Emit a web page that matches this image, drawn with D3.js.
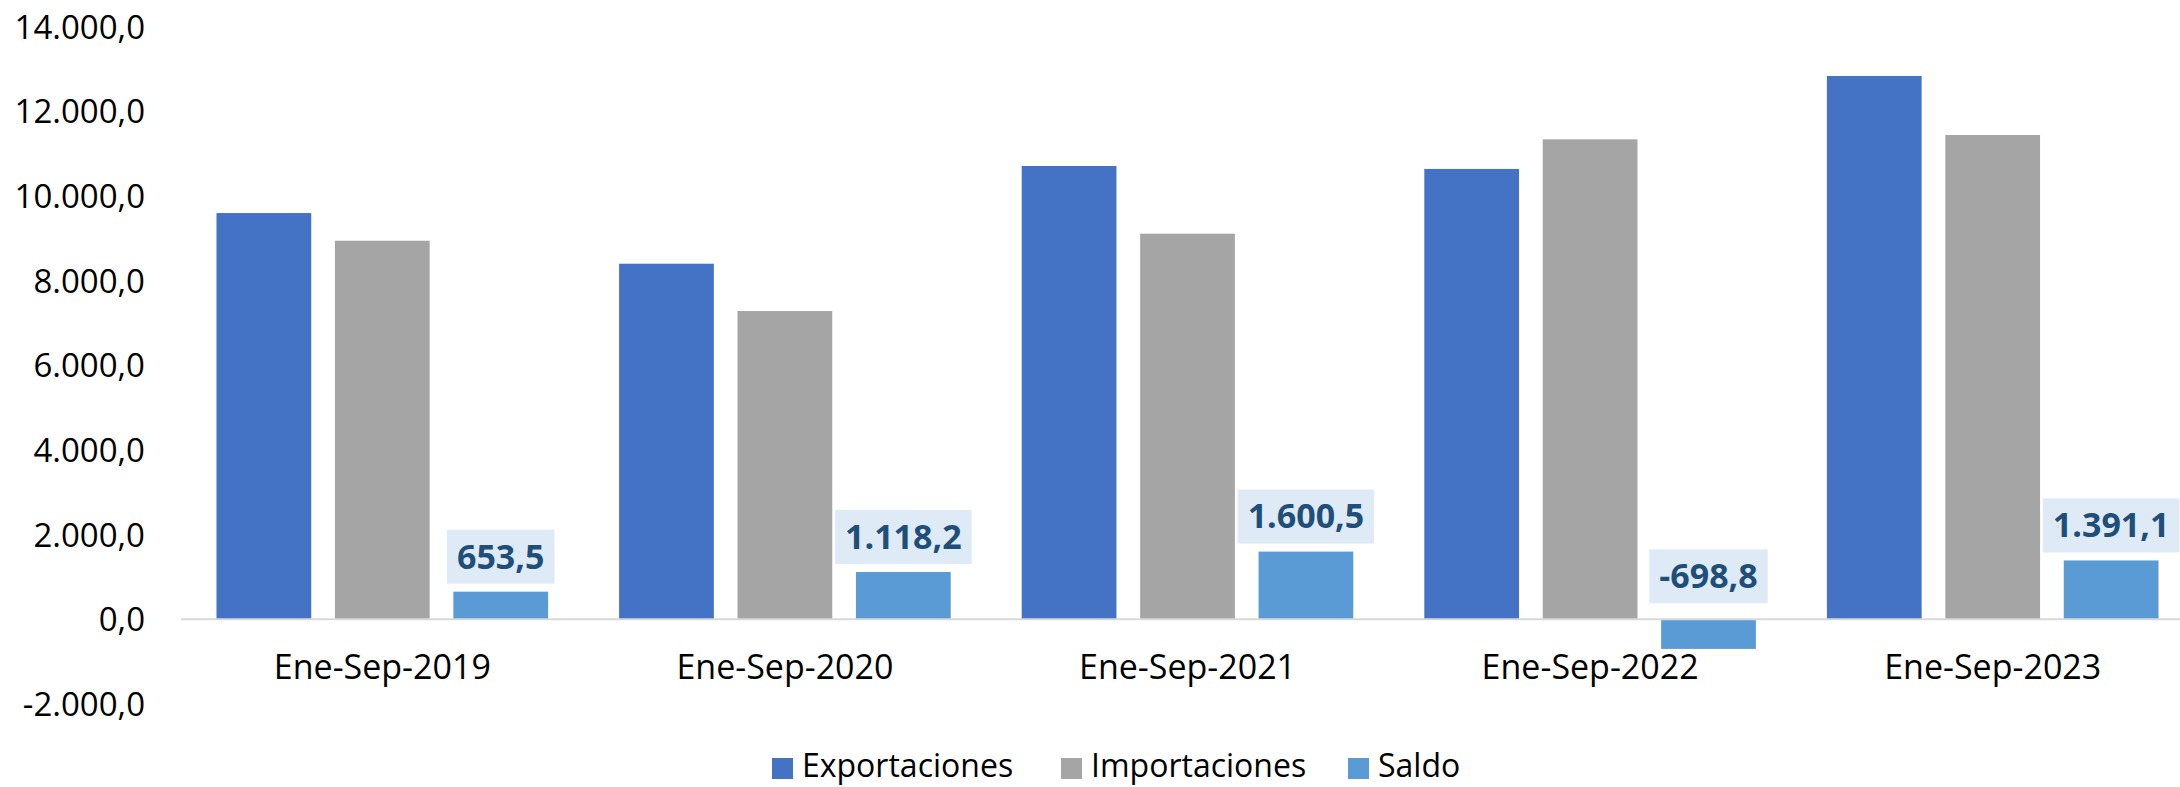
<!DOCTYPE html>
<html>
<head>
<meta charset="utf-8">
<script src="https://cdn.jsdelivr.net/npm/d3@7"></script>
<style>
  html, body { margin: 0; padding: 0; background: #fff; }
  svg { display: block; }
  text { font-family: "Open Sans", "Liberation Sans", sans-serif; }
</style>
</head>
<body>
<svg id="chart" width="2180" height="787"></svg>
<script>
// ---- data ----
const categories = ["Ene-Sep-2019", "Ene-Sep-2020", "Ene-Sep-2021", "Ene-Sep-2022", "Ene-Sep-2023"];
const seriesNames = ["Exportaciones", "Importaciones", "Saldo"];
const exportaciones = [9598, 8401, 10709, 10640, 12835];
const importaciones = [8944, 7283, 9110, 11339, 11441];
const saldo = [653.5, 1118.2, 1600.5, -698.8, 1391.1];
const yTicks = [-2000, 0, 2000, 4000, 6000, 8000, 10000, 12000, 14000];
const colors = ["#4472C4", "#A5A5A5", "#5B9BD5"];

const seriesValues = [exportaciones, importaciones, saldo];
const rows = categories.map((c, i) => ({
  cat: c,
  vals: seriesNames.map((s, k) => ({ series: s, value: seriesValues[k][i], k }))
}));

const loc = d3.formatLocale({ decimal: ",", thousands: ".", grouping: [3], currency: ["", ""], minus: "-" });
const fmt = loc.format(",.1f");

const svg = d3.select("#chart");

const y = d3.scaleLinear().domain([-2000, 14000]).range([704.0, 26.7]);
const x0 = d3.scaleBand().domain(categories).range([181, 2194]).padding(0);
const x1 = d3.scaleBand().domain(seriesNames).range([35.5, x0.bandwidth() - 35.5]).paddingInner(0.2);
const color = d3.scaleOrdinal().domain(seriesNames).range(colors);

// y axis labels
const yAxis = d3.axisLeft(y).tickValues(yTicks).tickFormat(fmt).tickSize(0).tickPadding(0);
const gy = svg.append("g").attr("transform", "translate(145,1)").call(yAxis);
gy.select(".domain").remove();
gy.selectAll("text")
  .attr("font-family", "Open Sans, Liberation Sans, sans-serif")
  .attr("font-size", 33)
  .attr("fill", "#000");

// bars
const groups = svg.append("g").selectAll("g").data(rows).join("g")
  .attr("transform", d => `translate(${x0(d.cat)},0)`);

groups.selectAll("rect").data(d => d.vals).join("rect")
  .attr("x", d => x1(d.series))
  .attr("width", x1.bandwidth())
  .attr("y", d => y(Math.max(0, d.value)))
  .attr("height", d => Math.abs(y(d.value) - y(0)))
  .attr("fill", d => color(d.series));

// zero line
svg.append("line")
  .attr("x1", x0.range()[0]).attr("x2", x0.range()[1])
  .attr("y1", y(0)).attr("y2", y(0))
  .attr("stroke", "#D9D9D9").attr("stroke-width", 2);

// x axis labels
const xAxis = d3.axisBottom(x0).tickSize(0).tickPadding(0);
const gx = svg.append("g").attr("transform", "translate(0,679)").call(xAxis);
gx.select(".domain").remove();
gx.selectAll("text")
  .attr("dy", 0)
  .attr("font-family", "Open Sans, Liberation Sans, sans-serif")
  .attr("font-size", 34)
  .attr("fill", "#000");

// Saldo data labels
const labelG = svg.append("g");
rows.forEach(r => {
  const d = r.vals[2];
  const cx = x0(r.cat) + x1(d.series) + x1.bandwidth() / 2;
  const boxBottom = d.value >= 0 ? y(d.value) - 8 : y(0) - 16;
  const boxH = 54;
  const g = labelG.append("g");
  const rect = g.append("rect").attr("fill", "#DEEAF6");
  const t = g.append("text")
    .attr("x", cx)
    .attr("y", boxBottom - boxH / 2)
    .attr("dy", "0.35em")
    .attr("text-anchor", "middle")
    .attr("font-size", 34)
    .attr("font-weight", "bold")
    .attr("fill", "#1F4E79")
    .text(fmt(d.value));
  const bb = t.node().getBBox();
  rect.attr("x", cx - bb.width / 2 - 10)
    .attr("width", bb.width + 20)
    .attr("y", boxBottom - boxH)
    .attr("height", boxH);
});

// legend
const legendItems = [
  { name: "Exportaciones", x: 772 },
  { name: "Importaciones", x: 1061 },
  { name: "Saldo", x: 1348 }
];
const lg = svg.append("g");
legendItems.forEach(it => {
  lg.append("rect").attr("x", it.x).attr("y", 758).attr("width", 21).attr("height", 21)
    .attr("fill", color(it.name));
  lg.append("text").attr("x", it.x + 30).attr("y", 777)
    .attr("font-size", 32).attr("fill", "#000").text(it.name);
});
</script>
</body>
</html>
